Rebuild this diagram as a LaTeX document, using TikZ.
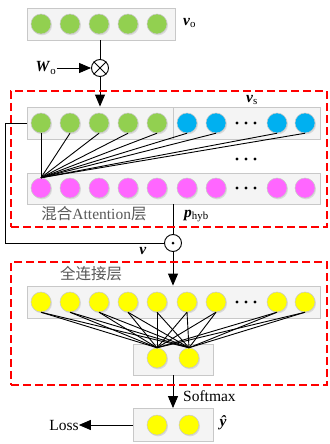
\documentclass[tikz,border=0pt]{standalone}
\usepackage{fontspec}
\setmainfont{Liberation Serif}
\newfontfamily\cjk{Noto Sans CJK SC}
\usetikzlibrary{arrows.meta}
\definecolor{cgreen}{HTML}{92D050}
\definecolor{cblue}{HTML}{00B0F0}
\definecolor{cpink}{HTML}{FF66FF}
\definecolor{cyel}{HTML}{FFFF00}
\definecolor{boxfill}{HTML}{F4F4F4}
\definecolor{boxline}{HTML}{C8C8C8}
\definecolor{shade}{HTML}{DADADA}
\definecolor{labgray}{HTML}{595959}
\tikzset{
  layerbox/.style={draw=boxline, fill=boxfill, line width=0.9pt, inner sep=0pt, rectangle},
  neuron/.style={circle, draw=boxline, line width=0.5pt, minimum size=20pt, inner sep=0pt,
                 fill=#1, preaction={fill=shade, transform canvas={xshift=1pt,yshift=-1.3pt}}},
  redframe/.style={rectangle, color=red, line width=1.1pt, dash pattern=on 8pt off 4pt, inner sep=0pt},
  conn/.style={line width=0.9pt, black},
  arr/.style={line width=0.9pt, black, -{Triangle[length=12pt,width=10pt,color=black,fill=black]}},
  opnode/.style={circle, draw, line width=0.9pt, minimum size=17pt, inner sep=0pt, fill=white},
  lab/.style={inner sep=0pt, font=\fontsize{15.5}{18}\selectfont},
}
\newcommand{\bivec}[1]{\textbf{\textit{#1}}}
\newcommand{\threedots}[2]{\foreach \dd in {-9,0,9}{\fill (#1+\dd,#2) circle (1.6pt);}}
\begin{document}
\begin{tikzpicture}[x=1pt,y=-1pt]
\fill[white] (0,0) rectangle (329,444);
\useasboundingbox (0,0) rectangle (329,444);

% layer boxes
\node[layerbox, minimum width=148pt, minimum height=32pt] (b0) at (101,24) {};
\node[layerbox, minimum width=146pt, minimum height=32pt] (g1) at (100,123) {};
\node[layerbox, minimum width=147pt, minimum height=32pt] (s1) at (246.5,123) {};
\node[layerbox, minimum width=293pt, minimum height=31pt] (r2) at (173.5,188.5) {};
\node[layerbox, minimum width=293pt, minimum height=32pt] (r3) at (173.5,302) {};
\node[layerbox, minimum width=80pt, minimum height=31pt] (r4) at (173,359.5) {};
\node[layerbox, minimum width=80pt, minimum height=33pt] (r5) at (173,425) {};

% neurons
\foreach \x [count=\i] in {41,70,99,128,157}
  \node[neuron=cgreen] (t\i) at (\x,24) {};
\foreach \x [count=\i] in {41,70,99,128,157}
  \node[neuron=cgreen] (a\i) at (\x,123) {};
\foreach \x [count=\i from 6] in {187,216,277,305}
  \node[neuron=cblue] (a\i) at (\x,123) {};
\foreach \x [count=\i] in {41,70,99,128,157,187,216,277,305}
  \node[neuron=cpink] (p\i) at (\x,188) {};
\foreach \x [count=\i] in {41,70,99,128,157,187,216,277,305}
  \node[neuron=cyel] (f\i) at (\x,302) {};
\node[neuron=cyel] (h1) at (157,358) {};
\node[neuron=cyel] (h2) at (189,358) {};
\node[neuron=cyel] (y1) at (157,425) {};
\node[neuron=cyel] (y2) at (189,425) {};

% dots
\threedots{246}{123}
\threedots{246}{188}
\threedots{246}{159}
\threedots{246}{302}

% attention lines
\foreach \i in {1,...,9}
  \draw[conn] (p1.north) -- (a\i.south);

% fully-connected lines
\foreach \i in {1,...,9}{
  \draw[conn] (f\i.south) -- (h1.north);
  \draw[conn] (f\i.south) -- (h2.north);
}

% operators
\node[opnode] (mul) at (100,68) {};
\draw[line width=0.9pt] (mul.north west) -- (mul.south east) (mul.north east) -- (mul.south west);
\node[opnode] (had) at (173,243) {};
\fill (had.center) circle (1.5pt);

% labels
\node[lab, anchor=west] (vo) at (183,23) {\bivec{v}\textsubscript{o}};
\node[lab] (wo) at (46,68) {\bivec{W}\textsubscript{o}};
\node[lab] (vs) at (252,100) {\bivec{v}\textsubscript{s}};
\node[lab, anchor=west] (ph) at (184,216) {\bivec{p}\textsubscript{hyb}};
\node[lab] (vv) at (143,251) {\bivec{v}};
\node[lab, text=labgray] (att) at (94,214) {{\cjk 混合}Attention{\cjk 层}};
\node[lab, text=labgray] (fc) at (91,274) {\cjk 全连接层};
\node[lab, anchor=west] (sm) at (183,396) {Softmax};
\node[lab] (yh) at (223,423) {\bivec{ŷ}};
\node[lab] (loss) at (64,425) {Loss};

% connectors
\draw[conn] (mul |- b0.south) -- (mul.north);
\draw[arr] (wo.east) -- (mul.west);
\draw[arr] (mul.south) -- (mul |- g1.north);
\draw[conn] (g1.west) -- ++(-21,0) |- (had.west);
\draw[conn] (had |- r2.south) -- (had.north);
\draw[arr] (had.south) -- (had |- r3.north);
\draw[arr] (r4.south) -- (r5.north);
\draw[arr] (r5.west) -- (loss.east);

% red dashed frames
\node[redframe, draw, minimum width=316pt, minimum height=136pt] (frame1) at (169,159) {};
\node[redframe, draw, minimum width=316pt, minimum height=123pt] (frame2) at (169,323.5) {};
\end{tikzpicture}
\end{document}
